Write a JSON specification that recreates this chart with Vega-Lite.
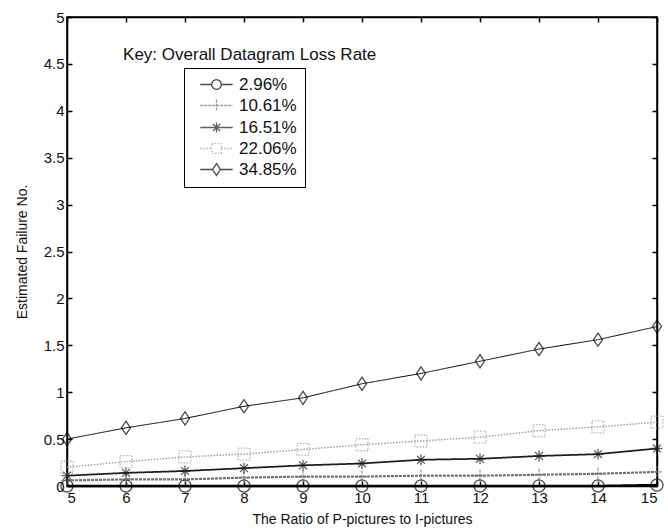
{
  "$schema": "https://vega.github.io/schema/vega-lite/v6.json",
  "width": 590,
  "height": 469,
  "autosize": {"type": "none"},
  "padding": {"left": 67, "top": 17, "right": 11, "bottom": 45},
  "background": "white",
  "config": {
    "view": {"stroke": "#000", "strokeWidth": 1.5},
    "font": "Liberation Sans",
    "axis": {
      "labelFont": "Liberation Sans",
      "titleFont": "Liberation Sans",
      "labelFontSize": 15,
      "titleFontSize": 14,
      "titleFontWeight": "normal",
      "labelColor": "#111",
      "titleColor": "#111",
      "tickColor": "#000",
      "domainColor": "#000",
      "domainWidth": 1.5,
      "tickWidth": 1.5,
      "tickSize": -5,
      "grid": false
    },
    "legend": {
      "labelFont": "Liberation Sans",
      "labelFontSize": 17,
      "labelColor": "#111"
    }
  },
  "data": {
    "values": [
      {"ratio": 5, "series": "2.96%", "value": 0.0},
      {"ratio": 6, "series": "2.96%", "value": 0.0},
      {"ratio": 7, "series": "2.96%", "value": 0.0},
      {"ratio": 8, "series": "2.96%", "value": 0.0},
      {"ratio": 9, "series": "2.96%", "value": 0.0},
      {"ratio": 10, "series": "2.96%", "value": 0.0},
      {"ratio": 11, "series": "2.96%", "value": 0.0},
      {"ratio": 12, "series": "2.96%", "value": 0.0},
      {"ratio": 13, "series": "2.96%", "value": 0.0},
      {"ratio": 14, "series": "2.96%", "value": 0.0},
      {"ratio": 15, "series": "2.96%", "value": 0.01},
      {"ratio": 5, "series": "10.61%", "value": 0.06},
      {"ratio": 6, "series": "10.61%", "value": 0.07},
      {"ratio": 7, "series": "10.61%", "value": 0.07},
      {"ratio": 8, "series": "10.61%", "value": 0.09},
      {"ratio": 9, "series": "10.61%", "value": 0.1},
      {"ratio": 10, "series": "10.61%", "value": 0.1},
      {"ratio": 11, "series": "10.61%", "value": 0.11},
      {"ratio": 12, "series": "10.61%", "value": 0.11},
      {"ratio": 13, "series": "10.61%", "value": 0.12},
      {"ratio": 14, "series": "10.61%", "value": 0.13},
      {"ratio": 15, "series": "10.61%", "value": 0.15},
      {"ratio": 5, "series": "16.51%", "value": 0.11},
      {"ratio": 6, "series": "16.51%", "value": 0.14},
      {"ratio": 7, "series": "16.51%", "value": 0.16},
      {"ratio": 8, "series": "16.51%", "value": 0.19},
      {"ratio": 9, "series": "16.51%", "value": 0.22},
      {"ratio": 10, "series": "16.51%", "value": 0.24},
      {"ratio": 11, "series": "16.51%", "value": 0.28},
      {"ratio": 12, "series": "16.51%", "value": 0.29},
      {"ratio": 13, "series": "16.51%", "value": 0.32},
      {"ratio": 14, "series": "16.51%", "value": 0.34},
      {"ratio": 15, "series": "16.51%", "value": 0.4},
      {"ratio": 5, "series": "22.06%", "value": 0.2},
      {"ratio": 6, "series": "22.06%", "value": 0.26},
      {"ratio": 7, "series": "22.06%", "value": 0.31},
      {"ratio": 8, "series": "22.06%", "value": 0.34},
      {"ratio": 9, "series": "22.06%", "value": 0.39},
      {"ratio": 10, "series": "22.06%", "value": 0.44},
      {"ratio": 11, "series": "22.06%", "value": 0.48},
      {"ratio": 12, "series": "22.06%", "value": 0.52},
      {"ratio": 13, "series": "22.06%", "value": 0.59},
      {"ratio": 14, "series": "22.06%", "value": 0.63},
      {"ratio": 15, "series": "22.06%", "value": 0.68},
      {"ratio": 5, "series": "34.85%", "value": 0.5},
      {"ratio": 6, "series": "34.85%", "value": 0.62},
      {"ratio": 7, "series": "34.85%", "value": 0.72},
      {"ratio": 8, "series": "34.85%", "value": 0.85},
      {"ratio": 9, "series": "34.85%", "value": 0.94},
      {"ratio": 10, "series": "34.85%", "value": 1.09},
      {"ratio": 11, "series": "34.85%", "value": 1.2},
      {"ratio": 12, "series": "34.85%", "value": 1.33},
      {"ratio": 13, "series": "34.85%", "value": 1.46},
      {"ratio": 14, "series": "34.85%", "value": 1.56},
      {"ratio": 15, "series": "34.85%", "value": 1.7}
    ]
  },
  "resolve": {
    "axis": {"x": "independent", "y": "independent"},
    "scale": {"shape": "independent"},
    "legend": {"color": "independent", "strokeDash": "independent", "shape": "independent", "strokeWidth": "independent"}
  },
  "layer": [
    {
      "mark": {"type": "line", "clip": false},
      "encoding": {
        "x": {
          "field": "ratio", "type": "quantitative",
          "scale": {"domain": [5, 15], "nice": false, "zero": false},
          "axis": {"orient": "bottom", "values": [5,6,7,8,9,10,11,12,13,14,15], "format": "d", "labelPadding": 9, "title": "The Ratio of P-pictures to I-pictures", "titlePadding": 7}
        },
        "y": {
          "field": "value", "type": "quantitative",
          "scale": {"domain": [0, 5], "nice": false},
          "axis": {"orient": "left", "values": [0,0.5,1,1.5,2,2.5,3,3.5,4,4.5,5], "format": "~g", "labelPadding": 8, "title": "Estimated Failure No.", "titlePadding": 14}
        },
        "color": {
          "field": "series", "type": "nominal",
          "scale": {"domain": ["2.96%", "10.61%", "16.51%", "22.06%", "34.85%"], "range": ["#000000", "#6f6f6f", "#1e1e1e", "#9a9a9a", "#000000"]},
          "legend": null
        },
        "strokeDash": {
          "field": "series", "type": "nominal",
          "scale": {"domain": ["2.96%", "10.61%", "16.51%", "22.06%", "34.85%"], "range": [[1, 0], [3, 1], [1, 0], [1.5, 1.5], [1, 0]]},
          "legend": null
        },
        "strokeWidth": {
          "field": "series", "type": "nominal",
          "scale": {"domain": ["2.96%", "10.61%", "16.51%", "22.06%", "34.85%"], "range": [2.5, 1, 1.2, 1, 1.6]},
          "legend": null
        }
      }
    },
    {
      "mark": {"type": "point", "filled": false, "size": 144, "strokeWidth": 1.3, "clip": false},
      "encoding": {
        "x": {
          "field": "ratio", "type": "quantitative",
          "axis": {"orient": "top", "values": [5,6,7,8,9,10,11,12,13,14,15], "labels": false, "title": null}
        },
        "y": {
          "field": "value", "type": "quantitative",
          "axis": {"orient": "right", "values": [0,0.5,1,1.5,2,2.5,3,3.5,4,4.5,5], "labels": false, "title": null}
        },
        "color": {"field": "series", "type": "nominal", "legend": null},
        "shape": {
          "field": "series", "type": "nominal",
          "scale": {"domain": ["2.96%", "10.61%", "16.51%", "22.06%", "34.85%"], "range": ["circle", "M-1,0L1,0M0,-1L0,1", "M-0.9,0L0.9,0M0,-0.9L0,0.9M-0.65,-0.65L0.65,0.65M-0.65,0.65L0.65,-0.65", "square", "M0,-1.1L0.75,0L0,1.1L-0.75,0Z"]},
          "legend": null
        },
        "strokeDash": {"field": "series", "type": "nominal", "legend": null}
      }
    },
    {
      "transform": [{"filter": "false"}],
      "mark": {"type": "point", "filled": false, "size": 144, "strokeWidth": 1.3},
      "encoding": {
        "x": {"field": "ratio", "type": "quantitative", "axis": null},
        "y": {"field": "value", "type": "quantitative", "axis": null},
        "color": {
          "field": "series", "type": "nominal",
          "legend": {
            "orient": "none", "legendX": 117, "legendY": 51,
            "title": null,
            "strokeColor": "#000",
            "padding": 8,
            "rowPadding": 3,
            "symbolSize": 144,
            "symbolOffset": 16,
            "labelOffset": 14,
            "symbolStrokeWidth": 1.3,
            "symbolFillColor": "transparent"
          }
        },
        "strokeDash": {
          "field": "series", "type": "nominal",
          "legend": {
            "orient": "none", "legendX": 117, "legendY": 51,
            "title": null,
            "strokeColor": "#000",
            "padding": 8,
            "rowPadding": 3,
            "symbolSize": 144,
            "symbolOffset": 16,
            "labelOffset": 14,
            "symbolStrokeWidth": 1.3,
            "symbolFillColor": "transparent"
          }
        },
        "shape": {
          "field": "series", "type": "nominal",
          "scale": {"domain": ["2.96%", "10.61%", "16.51%", "22.06%", "34.85%"], "range": [
            "M-2.7,0L-0.8,0M0.8,0L2.7,0M0.8,0A0.8,0.8 0 1 1 -0.8,0A0.8,0.8 0 1 1 0.8,0",
            "M-2.7,0L2.7,0M0,-1L0,1",
            "M-2.7,0L2.7,0M0,-0.85L0,0.85M-0.6,-0.6L0.6,0.6M-0.6,0.6L0.6,-0.6",
            "M-2.7,0L-0.8,0M0.8,0L2.7,0M-0.8,-0.8L0.8,-0.8L0.8,0.8L-0.8,0.8Z",
            "M-2.7,0L-0.65,0M0.65,0L2.7,0M0,-1L0.65,0L0,1L-0.65,0Z"
          ]},
          "legend": {
            "orient": "none", "legendX": 117, "legendY": 51,
            "title": null,
            "strokeColor": "#000",
            "padding": 8,
            "rowPadding": 3,
            "symbolSize": 144,
            "symbolOffset": 16,
            "labelOffset": 14,
            "symbolStrokeWidth": 1.3,
            "symbolFillColor": "transparent"
          }
        }
      }
    },
    {
      "data": {"values": [{"label": "Key: Overall Datagram Loss Rate"}]},
      "mark": {"type": "text", "align": "left", "baseline": "middle", "fontSize": 17, "font": "Liberation Sans", "color": "#111"},
      "encoding": {
        "x": {"datum": 5.95, "type": "quantitative", "axis": null},
        "y": {"datum": 4.59, "type": "quantitative", "axis": null},
        "text": {"field": "label"}
      }
    }
  ]
}
